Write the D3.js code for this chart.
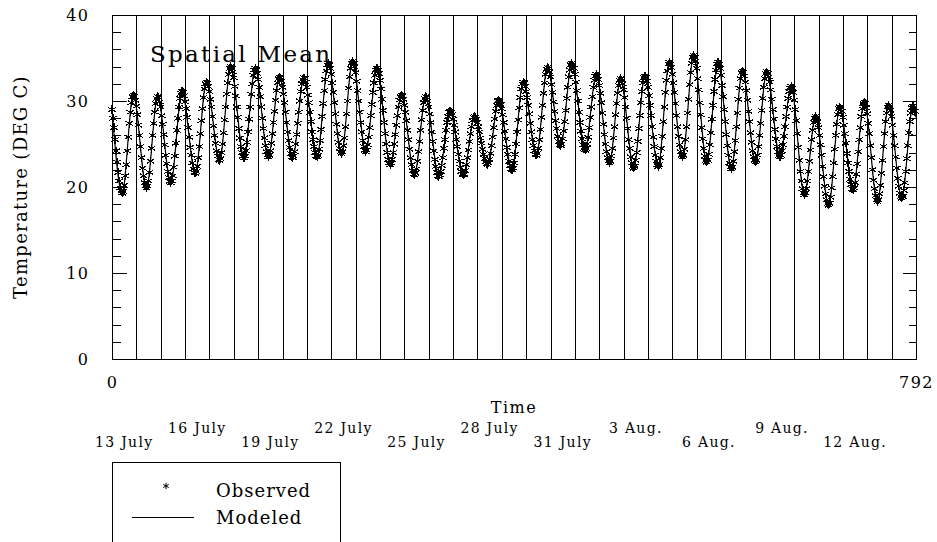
<!DOCTYPE html>
<html>
<head>
<meta charset="utf-8">
<script src="https://cdn.jsdelivr.net/npm/d3@7"></script>
<style>
  body { margin: 0; background: #fff; }
  svg { display: block; }
  text { font-family: "DejaVu Serif", serif; fill: #000; }
</style>
</head>
<body>
<div id="chart"></div>
<script>
/* Spatial mean temperature, observed (hourly) vs modeled, 13 July - 14 Aug. */

// hourly observed temperature, one row of 24 values per day
const observed = [
  [29.0,28.0,26.9,25.5,24.2,22.9,21.7,20.7,19.9,19.5,19.3,19.5,20.2,21.3,22.6,24.2,25.8,27.4,28.7,29.8,30.5,30.7,30.5,30.1],
  [29.4,28.4,27.2,26.0,24.7,23.4,22.2,21.3,20.5,20.1,19.9,20.1,20.7,21.7,23.0,24.5,26.0,27.4,28.7,29.7,30.3,30.5,30.4,29.9],
  [29.3,28.3,27.3,26.1,24.9,23.7,22.7,21.8,21.1,20.7,20.5,20.7,21.3,22.3,23.6,25.1,26.6,28.0,29.3,30.3,30.9,31.1,31.0,30.6],
  [29.9,29.1,28.1,26.9,25.8,24.6,23.7,22.8,22.1,21.7,21.6,21.8,22.4,23.4,24.7,26.2,27.7,29.1,30.4,31.4,32.0,32.2,32.1,31.7],
  [31.1,30.2,29.3,28.2,27.1,26.0,25.1,24.2,23.6,23.2,23.1,23.3,24.0,25.0,26.3,27.8,29.3,30.8,32.1,33.1,33.8,34.0,33.8,33.4],
  [32.7,31.7,30.6,29.3,28.1,26.8,25.7,24.7,24.0,23.6,23.4,23.6,24.2,25.2,26.4,27.9,29.3,30.8,32.0,33.0,33.6,33.8,33.6,33.2],
  [32.5,31.6,30.5,29.3,28.0,26.8,25.7,24.8,24.1,23.7,23.5,23.7,24.2,25.1,26.2,27.5,28.8,30.1,31.2,32.1,32.6,32.8,32.7,32.3],
  [31.6,30.8,29.8,28.7,27.5,26.4,25.4,24.6,23.9,23.5,23.4,23.6,24.1,25.0,26.1,27.4,28.7,30.0,31.1,32.0,32.5,32.7,32.6,32.2],
  [31.6,30.7,29.8,28.7,27.6,26.4,25.5,24.7,24.0,23.6,23.5,23.7,24.4,25.4,26.7,28.2,29.7,31.2,32.5,33.5,34.2,34.4,34.2,33.8],
  [33.1,32.1,31.0,29.8,28.5,27.3,26.2,25.2,24.5,24.1,23.9,24.1,24.8,25.7,27.0,28.5,30.0,31.5,32.8,33.8,34.4,34.6,34.4,34.0],
  [33.3,32.3,31.2,30.0,28.7,27.5,26.4,25.4,24.7,24.3,24.1,24.3,24.9,25.8,26.9,28.3,29.6,31.0,32.1,33.0,33.6,33.8,33.6,33.2],
  [32.4,31.4,30.2,28.9,27.5,26.2,25.0,24.0,23.2,22.8,22.6,22.8,23.2,24.0,25.0,26.1,27.2,28.3,29.3,30.1,30.5,30.7,30.6,30.2],
  [29.5,28.7,27.7,26.6,25.5,24.4,23.4,22.6,21.9,21.5,21.4,21.6,22.1,23.0,24.1,25.3,26.6,27.8,28.9,29.8,30.3,30.5,30.4,30.0],
  [29.3,28.5,27.5,26.4,25.3,24.2,23.2,22.4,21.7,21.3,21.2,21.4,21.8,22.5,23.4,24.5,25.5,26.6,27.5,28.2,28.7,28.8,28.7,28.4],
  [27.9,27.2,26.4,25.5,24.7,23.8,23.0,22.3,21.8,21.5,21.4,21.5,21.9,22.6,23.4,24.3,25.3,26.2,27.0,27.7,28.1,28.2,28.1,27.9],
  [27.5,27.0,26.4,25.7,25.1,24.4,23.8,23.3,22.9,22.7,22.6,22.8,23.2,23.9,24.8,25.8,26.9,27.9,28.8,29.5,30.0,30.1,30.0,29.6],
  [29.1,28.4,27.5,26.5,25.6,24.6,23.8,23.0,22.5,22.1,22.0,22.2,22.8,23.8,25.0,26.4,27.8,29.2,30.4,31.4,32.0,32.2,32.1,31.7],
  [31.1,30.4,29.5,28.5,27.4,26.4,25.5,24.8,24.2,23.8,23.7,23.9,24.5,25.5,26.7,28.1,29.5,30.9,32.1,33.1,33.7,33.9,33.8,33.4],
  [32.8,31.9,31.0,29.9,28.8,27.7,26.8,25.9,25.3,24.9,24.8,25.0,25.6,26.5,27.6,28.9,30.3,31.6,32.8,33.6,34.2,34.4,34.2,33.8],
  [33.1,32.2,31.2,30.0,28.7,27.5,26.5,25.6,24.9,24.5,24.3,24.5,25.0,25.8,26.9,28.1,29.3,30.5,31.6,32.4,32.9,33.1,32.9,32.5],
  [31.8,30.9,29.8,28.6,27.3,26.1,25.0,24.1,23.4,23.0,22.8,23.0,23.6,24.5,25.7,27.0,28.4,29.7,30.9,31.8,32.4,32.6,32.4,32.0],
  [31.3,30.4,29.3,28.0,26.8,25.5,24.5,23.5,22.8,22.4,22.2,22.4,23.1,24.0,25.3,26.8,28.3,29.8,31.1,32.1,32.7,32.9,32.7,32.3],
  [31.6,30.6,29.5,28.3,27.0,25.8,24.7,23.7,23.0,22.6,22.4,22.6,23.4,24.5,25.9,27.6,29.3,31.0,32.4,33.5,34.3,34.5,34.3,33.9],
  [33.1,32.1,31.0,29.7,28.3,27.0,25.9,24.9,24.1,23.7,23.5,23.7,24.4,25.5,27.0,28.6,30.2,31.9,33.3,34.4,35.1,35.3,35.1,34.6],
  [33.8,32.6,31.3,29.8,28.4,26.9,25.6,24.5,23.6,23.1,22.9,23.1,23.8,24.9,26.3,27.9,29.5,31.1,32.5,33.6,34.3,34.5,34.3,33.8],
  [33.0,31.8,30.5,29.0,27.6,26.1,24.8,23.7,22.8,22.3,22.1,22.3,23.0,24.1,25.4,27.0,28.6,30.2,31.5,32.6,33.3,33.5,33.3,32.9],
  [32.2,31.2,30.1,28.8,27.6,26.3,25.2,24.2,23.5,23.1,22.9,23.1,23.7,24.7,26.0,27.4,28.9,30.3,31.6,32.6,33.2,33.4,33.2,32.8],
  [32.2,31.3,30.2,29.0,27.9,26.7,25.6,24.7,24.1,23.7,23.5,23.7,24.2,24.9,25.9,27.0,28.2,29.3,30.3,31.1,31.5,31.7,31.5,31.0],
  [30.1,29.0,27.7,26.2,24.6,23.1,21.8,20.7,19.8,19.3,19.1,19.3,19.8,20.7,21.8,23.0,24.3,25.5,26.6,27.5,28.0,28.2,28.0,27.6],
  [26.9,26.0,24.9,23.7,22.4,21.2,20.1,19.2,18.5,18.1,17.9,18.1,18.8,19.9,21.2,22.8,24.4,26.0,27.3,28.4,29.1,29.3,29.2,28.8],
  [28.1,27.2,26.2,25.1,23.9,22.8,21.8,20.9,20.3,19.8,19.7,19.9,20.5,21.5,22.7,24.1,25.5,26.9,28.2,29.1,29.7,29.9,29.7,29.2],
  [28.5,27.4,26.2,24.8,23.4,22.0,20.8,19.8,19.0,18.5,18.3,18.5,19.2,20.2,21.6,23.1,24.7,26.2,27.6,28.6,29.3,29.5,29.3,28.9],
  [28.2,27.2,26.0,24.8,23.5,22.2,21.0,20.1,19.3,18.9,18.7,18.9,19.6,20.5,21.8,23.3,24.8,26.3,27.6,28.6,29.2,29.4,29.2,28.8]
];

// modeled daily minimum (about hour 10) and maximum (about hour 21)
const modeledMin = [19.3,19.9,20.5,21.6,23.1,23.4,23.5,23.4,23.5,23.9,24.1,22.6,21.4,21.2,21.4,22.6,22.0,
                    23.7,24.8,24.3,22.8,22.2,22.4,23.5,22.9,22.1,22.9,23.5,19.1,17.9,19.7,18.3,18.7];
const modeledMax = [30.7,30.5,31.1,32.2,34.0,33.8,32.8,32.7,34.4,34.6,33.8,30.7,30.5,28.8,28.2,30.1,32.2,
                    33.9,34.4,33.1,32.6,32.9,34.5,35.3,34.5,33.5,33.4,31.7,28.2,29.3,29.9,29.5,29.4];
const modeledStart = 29.0, modeledEnd = 28.1;
const minHour = 10, maxHour = 21;

const dateLabels = ["13 July", "16 July", "19 July", "22 July", "25 July", "28 July",
                    "31 July", "3 Aug.", "6 Aug.", "9 Aug.", "12 Aug."];
const yMajor = [0, 10, 20, 30, 40];
const yMinor = [2, 4, 6, 8, 12, 14, 16, 18, 22, 24, 26, 28, 32, 34, 36, 38];
const xLabels = [0, 792];

const width = 937,
      height = 542,
      margin = ({ top: 15, right: 21, bottom: 183, left: 112 });

const svg = d3.select("#chart")
    .append("svg")
    .attr("width", width)
    .attr("height", height);

const x = d3.scaleLinear()
    .domain([0, 792])
    .range([margin.left, width - margin.right]);

const y = d3.scaleLinear()
    .domain([0, 40])
    .range([height - margin.bottom, margin.top]);

// day boundaries
svg.append("g")
    .selectAll("line")
    .data(observed.slice(1).map((row, i) => (i + 1) * 24))
    .join("line")
    .attr("x1", d => Math.round(x(d)) + 0.5)
    .attr("x2", d => Math.round(x(d)) + 0.5)
    .attr("y1", y(40))
    .attr("y2", y(0))
    .attr("stroke", "#000")
    .attr("shape-rendering", "crispEdges");

// frame
svg.append("rect")
    .attr("x", x(0) + 0.5)
    .attr("y", y(40) + 0.5)
    .attr("width", x(792) - x(0))
    .attr("height", y(0) - y(40))
    .attr("fill", "none")
    .attr("stroke", "#000")
    .attr("shape-rendering", "crispEdges");

// y axis, left: major ticks with labels, minor ticks; right: ticks only
const leftMajor = svg.append("g")
    .attr("transform", `translate(${x(0) + 0.5},0)`)
    .call(d3.axisLeft(y).tickValues(yMajor).tickSize(-14).tickSizeOuter(0).tickPadding(23));
const leftMinor = svg.append("g")
    .attr("transform", `translate(${x(0) + 0.5},0)`)
    .call(d3.axisLeft(y).tickValues(yMinor).tickSize(-8).tickSizeOuter(0).tickFormat(""));
const rightMajor = svg.append("g")
    .attr("transform", `translate(${x(792) + 0.5},0)`)
    .call(d3.axisRight(y).tickValues(yMajor).tickSize(-14).tickSizeOuter(0).tickFormat(""));
const rightMinor = svg.append("g")
    .attr("transform", `translate(${x(792) + 0.5},0)`)
    .call(d3.axisRight(y).tickValues(yMinor).tickSize(-8).tickSizeOuter(0).tickFormat(""));

const xAxis = svg.append("g")
    .attr("transform", `translate(0,${y(0)})`)
    .call(d3.axisBottom(x).tickValues(xLabels).tickSize(0).tickPadding(18).tickFormat(d3.format("d")));

for (const g of [leftMajor, leftMinor, rightMajor, rightMinor, xAxis]) {
    g.select(".domain").remove();
    g.selectAll("line").attr("stroke", "#000").attr("shape-rendering", "crispEdges");
    g.selectAll("text")
        .attr("font-family", "DejaVu Serif")
        .attr("font-size", 16)
        .attr("letter-spacing", 1.5)
        .attr("fill", "#000");
}

// modeled line through daily extremes
const modeled = [{ t: 0, v: modeledStart }];
modeledMin.forEach((v, d) => {
    modeled.push({ t: d * 24 + minHour, v: v });
    modeled.push({ t: d * 24 + maxHour, v: modeledMax[d] });
});
modeled.push({ t: 792, v: modeledEnd });

svg.append("path")
    .datum(modeled)
    .attr("fill", "none")
    .attr("stroke", "#000")
    .attr("stroke-width", 1.2)
    .attr("d", d3.line().x(d => x(d.t)).y(d => y(d.v)).curve(d3.curveMonotoneX));

// observed asterisks
const obsPoints = observed.flatMap((row, d) => row.map((v, h) => ({ t: d * 24 + h, v: v })));
const star = d3.symbol(d3.symbolAsterisk, 50);

svg.append("g")
    .selectAll("path")
    .data(obsPoints)
    .join("path")
    .attr("transform", d => `translate(${x(d.t)},${y(d.v)})`)
    .attr("d", star)
    .attr("fill", "none")
    .attr("stroke", "#000")
    .attr("stroke-width", 1.1)
    .attr("shape-rendering", "crispEdges");

// titles
svg.append("text")
    .attr("x", 150)
    .attr("y", 62)
    .attr("font-size", 23)
    .attr("letter-spacing", 2.3)
    .text("Spatial Mean");

svg.append("text")
    .attr("transform", `translate(27,${(y(0) + y(40)) / 2}) rotate(-90)`)
    .attr("text-anchor", "middle")
    .attr("font-size", 18)
    .attr("letter-spacing", 1.3)
    .text("Temperature (DEG C)");

svg.append("text")
    .attr("x", (x(0) + x(792)) / 2)
    .attr("y", 413)
    .attr("text-anchor", "middle")
    .attr("font-size", 16)
    .attr("letter-spacing", 1.5)
    .text("Time");

// date labels, every third day, alternating rows
svg.append("g")
    .selectAll("text")
    .data(dateLabels)
    .join("text")
    .attr("x", (d, i) => x(i * 3 * 24 + 12))
    .attr("y", (d, i) => i % 2 === 0 ? 447 : 433)
    .attr("text-anchor", "middle")
    .attr("font-size", 14)
    .attr("letter-spacing", 1.3)
    .text(d => d);

// legend
const legend = svg.append("g");
legend.append("rect")
    .attr("x", 112.5)
    .attr("y", 462.5)
    .attr("width", 228)
    .attr("height", 100)
    .attr("fill", "none")
    .attr("stroke", "#000")
    .attr("shape-rendering", "crispEdges");
legend.append("path")
    .attr("transform", "translate(166,486)")
    .attr("d", d3.symbol(d3.symbolAsterisk, 28))
    .attr("fill", "none")
    .attr("stroke", "#000");
legend.append("text")
    .attr("x", 216)
    .attr("y", 497)
    .attr("font-size", 18)
    .attr("letter-spacing", 1)
    .text("Observed");
legend.append("line")
    .attr("x1", 132)
    .attr("x2", 194)
    .attr("y1", 517.5)
    .attr("y2", 517.5)
    .attr("stroke", "#000")
    .attr("shape-rendering", "crispEdges");
legend.append("text")
    .attr("x", 216)
    .attr("y", 524)
    .attr("font-size", 18)
    .attr("letter-spacing", 1)
    .text("Modeled");
</script>
</body>
</html>
